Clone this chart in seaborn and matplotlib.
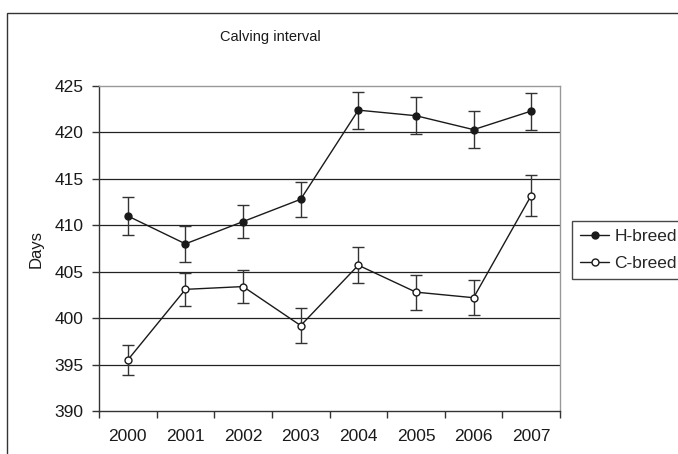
import matplotlib
matplotlib.use("Agg")
import matplotlib.pyplot as plt
from matplotlib.lines import Line2D
from matplotlib.patches import Rectangle
from matplotlib.ticker import FixedLocator, NullFormatter
import pandas as pd
import seaborn as sns

# Calving interval by year and breed (means with standard errors)
years = [2000, 2001, 2002, 2003, 2004, 2005, 2006, 2007]
h_breed = [411.0, 408.0, 410.4, 412.8, 422.4, 421.8, 420.3, 422.3]
h_err = [2.0, 1.9, 1.8, 1.9, 2.0, 2.0, 2.0, 2.0]
c_breed = [395.5, 403.1, 403.4, 399.2, 405.7, 402.8, 402.2, 413.2]
c_err = [1.6, 1.8, 1.75, 1.85, 1.95, 1.9, 1.9, 2.2]
y_ticks = [390, 395, 400, 405, 410, 415, 420, 425]

sns.set_theme(style="white")
plt.rcParams["font.family"] = ["Liberation Sans", "DejaVu Sans"]

df = pd.DataFrame({
    "year": years * 2,
    "days": h_breed + c_breed,
    "err": h_err + c_err,
    "breed": ["H-breed"] * len(years) + ["C-breed"] * len(years),
})

INK = "#1a1a1a"
W, H = 678, 454
fig = plt.figure(figsize=(W / 100, H / 100), dpi=100)
ax = fig.add_axes([99 / W, 1 - 411 / H, (560 - 99) / W, (411 - 86) / H])

# outer chart frame
fig.patches.append(Rectangle((7 / W, -0.1), 1.2, 1 - 13 / H + 0.1,
                             transform=fig.transFigure, fill=False,
                             edgecolor="#333333", linewidth=1.0, zorder=0))

# horizontal gridlines
for v in y_ticks[1:-1]:
    ax.axhline(v, color="#222222", linewidth=0.9, zorder=1)

# error bars
for name in ["H-breed", "C-breed"]:
    sub = df[df["breed"] == name]
    ax.errorbar(sub["year"], sub["days"], yerr=sub["err"], fmt="none",
                ecolor="#333333", elinewidth=1.0, capsize=4, capthick=1.0, zorder=2)

sns.lineplot(data=df, x="year", y="days", hue="breed", style="breed",
             palette={"H-breed": INK, "C-breed": INK},
             markers={"H-breed": "o", "C-breed": "o"},
             dashes={"H-breed": "", "C-breed": ""},
             linewidth=1.0, ax=ax, legend=False, zorder=3)

# marker faces: filled for H, open for C
lines = ax.get_lines()
line_h, line_c = lines[-2], lines[-1]
for ln, face in [(line_h, INK), (line_c, "white")]:
    ln.set_markerfacecolor(face)
    ln.set_markeredgecolor(INK)
    ln.set_markersize(5)
    ln.set_markeredgewidth(1.0)

ax.set_xlim(years[0] - 0.5, years[-1] + 0.5)
ax.set_ylim(y_ticks[0], y_ticks[-1])
ax.set_yticks(y_ticks)
ax.set_xticks(years)
ax.set_xticklabels([str(y) for y in years])
ax.xaxis.set_minor_locator(FixedLocator([y - 0.5 for y in years] + [years[-1] + 0.5]))
ax.xaxis.set_minor_formatter(NullFormatter())
ax.tick_params(axis="x", which="major", length=0, labelsize=12.5, pad=13, colors=INK)
ax.tick_params(axis="x", which="minor", length=5, width=1, color="#333333", bottom=True, direction="out")
ax.tick_params(axis="y", which="major", length=5, width=1, color="#333333", left=True,
               direction="out", labelsize=12.5, pad=6, labelcolor=INK)

ax.set_xlabel("")
ax.set_ylabel("Days", fontsize=12, color=INK, labelpad=8)

for side in ["left", "bottom"]:
    ax.spines[side].set_color("#333333")
    ax.spines[side].set_linewidth(1.0)
for side in ["top", "right"]:
    ax.spines[side].set_color("#999999")
    ax.spines[side].set_linewidth(1.0)

fig.text(270 / W, 1 - 37 / H, "Calving interval", ha="center", va="center",
         fontsize=10.5, color=INK)

handles = [
    Line2D([], [], color=INK, linewidth=1.0, marker="o", markersize=5,
           markerfacecolor=INK, markeredgecolor=INK),
    Line2D([], [], color=INK, linewidth=1.0, marker="o", markersize=5,
           markerfacecolor="white", markeredgecolor=INK),
]
leg = fig.legend(handles, ["H-breed", "C-breed"], loc="upper left",
                 bbox_to_anchor=(572 / W, 1 - 221 / H), borderaxespad=0,
                 fontsize=12.5, frameon=True, fancybox=False, handlelength=1.7,
                 handletextpad=0.3, borderpad=0.45, labelspacing=0.68)
leg.get_frame().set_edgecolor(INK)
leg.get_frame().set_linewidth(1.0)

fig.savefig("out.png", dpi=100)
